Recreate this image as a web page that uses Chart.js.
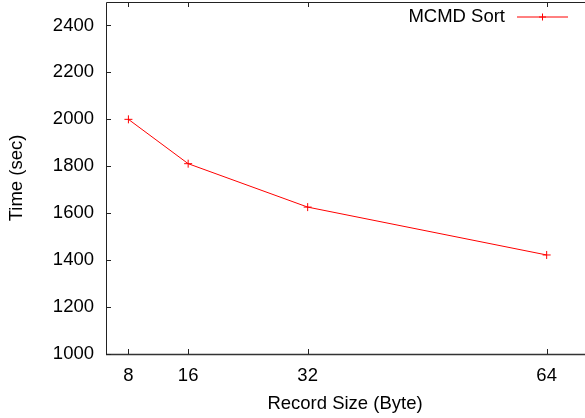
<!DOCTYPE html>
<html>
<head>
<meta charset="utf-8">
<script src="https://cdn.jsdelivr.net/npm/chart.js@4/dist/chart.umd.min.js"></script>
<style>
  html, body { margin: 0; padding: 0; background: #fff; }
  #wrap { width: 585px; height: 418px; }
</style>
</head>
<body>
<div id="wrap"><canvas id="chart"></canvas></div>
<script>
// data
var recordSizes = [8, 16, 32, 64];
var sortTimes = [2000, 1811, 1626, 1422];
var xTicks = [8, 16, 32, 64];
var yTicks = [1000, 1200, 1400, 1600, 1800, 2000, 2200, 2400];

var FONT = '"Liberation Sans", Arial, sans-serif';
var FSIZE = 18.5;

// gnuplot style frame: border + inward ticks (right side is cut off in the original)
var framePlugin = {
    id: 'frame',
    afterDatasetsDraw: function (chart) {
        var ctx = chart.ctx;
        var a = chart.chartArea;
        var xs = chart.scales.x, ys = chart.scales.y;
        ctx.save();
        ctx.strokeStyle = '#222';
        ctx.lineWidth = 1;
        ctx.beginPath();
        ctx.moveTo(585, a.top + 0.5);
        ctx.lineTo(a.left + 0.5, a.top + 0.5);
        ctx.lineTo(a.left + 0.5, a.bottom + 0.5);
        ctx.stroke();
        ctx.strokeStyle = '#333';
        ctx.lineWidth = 1.6;
        ctx.beginPath();
        ctx.moveTo(a.left, a.bottom + 0.5);
        ctx.lineTo(585, a.bottom + 0.5);
        ctx.stroke();
        ctx.strokeStyle = '#222';
        ctx.lineWidth = 1;
        ctx.beginPath();
        xTicks.forEach(function (v) {
            var px = Math.round(xs.getPixelForValue(v)) + 0.5;
            ctx.moveTo(px, a.bottom); ctx.lineTo(px, a.bottom - 5);
            ctx.moveTo(px, a.top); ctx.lineTo(px, a.top + 5);
        });
        yTicks.forEach(function (v) {
            var py = Math.round(ys.getPixelForValue(v)) + 0.5;
            ctx.moveTo(a.left, py); ctx.lineTo(a.left + 5, py);
        });
        ctx.stroke();

        // legend, top right
        var ds = chart.data.datasets[0];
        var ly = 17;
        ctx.strokeStyle = ds.borderColor;
        ctx.beginPath();
        ctx.moveTo(517, ly); ctx.lineTo(568, ly);
        ctx.moveTo(539, ly); ctx.lineTo(546, ly);
        ctx.moveTo(542.5, ly - 3.5); ctx.lineTo(542.5, ly + 3.5);
        ctx.stroke();
        ctx.fillStyle = '#000';
        ctx.font = FSIZE + 'px ' + FONT;
        ctx.textAlign = 'right';
        ctx.textBaseline = 'middle';
        ctx.fillText(ds.label, 505, ly);
        ctx.restore();
    }
};

var ctx = document.getElementById('chart').getContext('2d');
var chart = new Chart(ctx, {
    type: 'line',
    data: {
        datasets: [{
            label: 'MCMD Sort',
            data: recordSizes.map(function (x, i) { return { x: x, y: sortTimes[i] }; }),
            borderColor: '#ff0000',
            backgroundColor: '#ff0000',
            borderWidth: 1,
            pointStyle: 'cross',
            pointRadius: 4,
            pointBorderWidth: 1,
            tension: 0,
            fill: false
        }]
    },
    options: {
        responsive: true,
        maintainAspectRatio: false,
        animation: false,
        layout: { autoPadding: false, padding: { top: 2, right: 1, left: 0, bottom: 0 } },
        plugins: { legend: { display: false }, tooltip: { enabled: false } },
        scales: {
            x: {
                type: 'linear',
                min: 5,
                max: 69,
                afterBuildTicks: function (s) { s.ticks = xTicks.map(function (v) { return { value: v }; }); },
                afterFit: function (s) { s.height = 64; s.paddingLeft = 0; s.paddingRight = 0; },
                grid: { display: false, drawTicks: false },
                border: { display: false },
                ticks: {
                    color: '#000',
                    padding: 11,
                    maxRotation: 0,
                    autoSkip: false,
                    font: { family: FONT, size: FSIZE }
                },
                title: {
                    display: true,
                    text: 'Record Size (Byte)',
                    color: '#000',
                    padding: { top: 0, bottom: 3 },
                    font: { family: FONT, size: FSIZE }
                }
            },
            y: {
                min: 1000,
                max: 2500,
                afterBuildTicks: function (s) { s.ticks = yTicks.map(function (v) { return { value: v }; }); },
                afterFit: function (s) { s.width = 106; s.paddingTop = 0; s.paddingBottom = 0; },
                grid: { display: false, drawTicks: false },
                border: { display: false },
                ticks: {
                    color: '#000',
                    padding: 12,
                    autoSkip: false,
                    callback: function (v) { return String(v); },
                    font: { family: FONT, size: FSIZE }
                },
                title: {
                    display: true,
                    text: 'Time (sec)',
                    color: '#000',
                    padding: { top: 6, bottom: 0 },
                    font: { family: FONT, size: FSIZE }
                }
            }
        }
    },
    plugins: [framePlugin]
});
</script>
</body>
</html>
